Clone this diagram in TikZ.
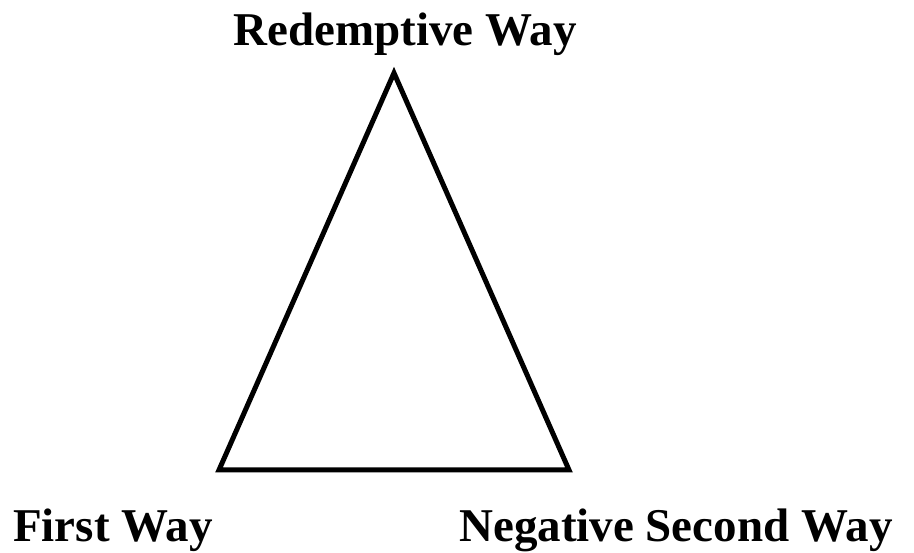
\documentclass[tikz,border=0pt]{standalone}
\usepackage{fontspec}
\setmainfont{Liberation Serif}
\begin{document}
\begin{tikzpicture}[x=1pt,y=1pt,
  lbl/.style={inner sep=0pt,font=\fontsize{47}{56}\selectfont\bfseries}]
\useasboundingbox (0,0) rectangle (914,553);
\coordinate (top) at (394,480);
\coordinate (bl) at (219,83);
\coordinate (br) at (569,83);
\draw[line width=5pt,miter limit=10] (top) -- (bl) -- (br) -- cycle;
\node[lbl,anchor=base] (r) at (405,507) {Redemptive Way};
\node[lbl,anchor=base west] (f) at (13,11) {First Way};
\node[lbl,anchor=base west] (n) at (459,11) {Negative Second Way};
\end{tikzpicture}
\end{document}
